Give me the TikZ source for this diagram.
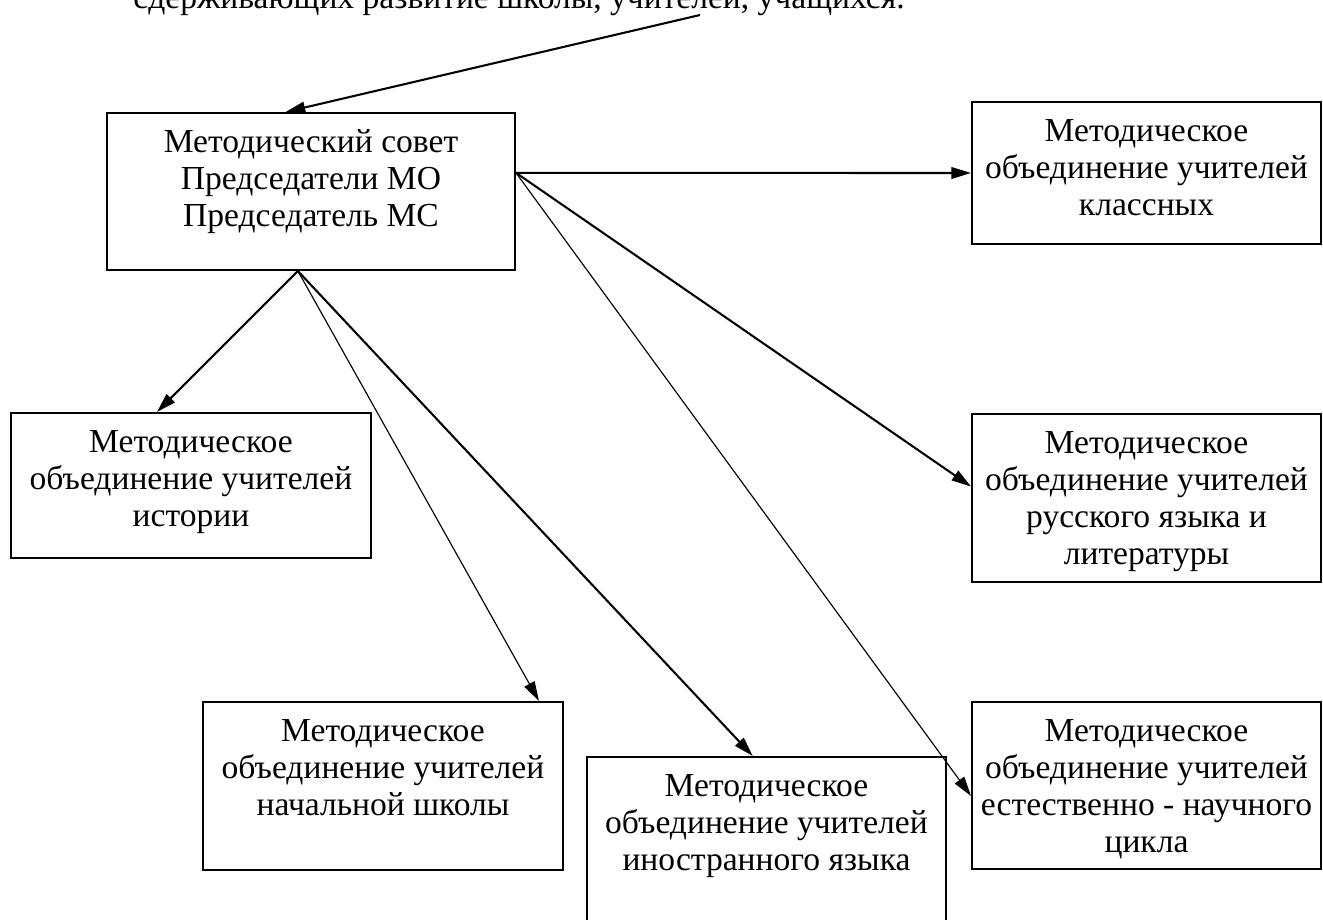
\documentclass[tikz,border=0pt]{standalone}
\usepackage{fontspec}
\setmainfont{Liberation Serif}
\usetikzlibrary{arrows.meta, fit}

\begin{document}
\begin{tikzpicture}[
  x=0.435pt, y=-0.435pt,
  mobox/.style={draw, line width=0.9pt, inner sep=0pt},
  motext/.style={anchor=north, inner sep=0pt, align=center, yshift=-6pt, font=\fontsize{14.6pt}{16.1pt}\selectfont},
  link/.style={-{Triangle[length=8.5pt,width=5pt]}, line width=0.9pt},
  thinlink/.style={link, line width=0.5pt}
]
\useasboundingbox (0,0) rectangle (1323,920);

% строка текста сверху (обрезана краем)
\node[anchor=base west, inner sep=0pt, font=\fontsize{14.6pt}{16.1pt}\selectfont] (head) at (133,9)
  {сдерживающих развитие школы, учителей, учащихся.};
\coordinate (src) at (700,15);

% блоки
\node[mobox, fit={(107,113) (515,270)}]  (ms)  {};
\node[mobox, fit={(972,102) (1321,244)}] (kl)  {};
\node[mobox, fit={(11,413) (371,558)}]   (ist) {};
\node[mobox, fit={(972,414) (1321,582)}] (rus) {};
\node[mobox, fit={(203,702) (563,870)}]  (nach) {};
\node[mobox, fit={(587,757) (946,940)}]  (ino) {};
\node[mobox, fit={(972,702) (1321,869)}] (est) {};

\node[motext] (ms-t)   at (ms.north)   {\strut Методический совет\\Председатели МО\\Председатель МС};
\node[motext] (kl-t)   at (kl.north)   {\strut Методическое\\объединение учителей\\классных};
\node[motext] (ist-t)  at (ist.north)  {\strut Методическое\\объединение учителей\\истории};
\node[motext] (rus-t)  at (rus.north)  {\strut Методическое\\объединение учителей\\русского языка и\\литературы};
\node[motext] (nach-t) at (nach.north) {\strut Методическое\\объединение учителей\\начальной школы};
\node[motext] (ino-t)  at (ino.north)  {\strut Методическое\\объединение учителей\\иностранного языка};
\node[motext] (est-t)  at (est.north)  {\strut Методическое\\объединение учителей\\естественно - научного\\цикла};

% стрелки
\coordinate (msE) at ([yshift=-26.5pt]ms.north east);
\coordinate (msS) at ([xshift=-5.7pt]ms.south);

\draw[link] (src) -- ([xshift=-11pt]ms.north);
\draw[link] (msE) -- (kl.west);
\draw[link] (msE) -- ([yshift=5pt]rus.west);
\draw[thinlink] (msE) -- ([yshift=-4.5pt]est.west);
\draw[link] (msS) -- ([xshift=-14.8pt]ist.north);
\draw[thinlink] (msS) -- ([xshift=-10.9pt]nach.north east);
\draw[link] (msS) -- ([xshift=-6pt]ino.north);
\end{tikzpicture}
\end{document}
